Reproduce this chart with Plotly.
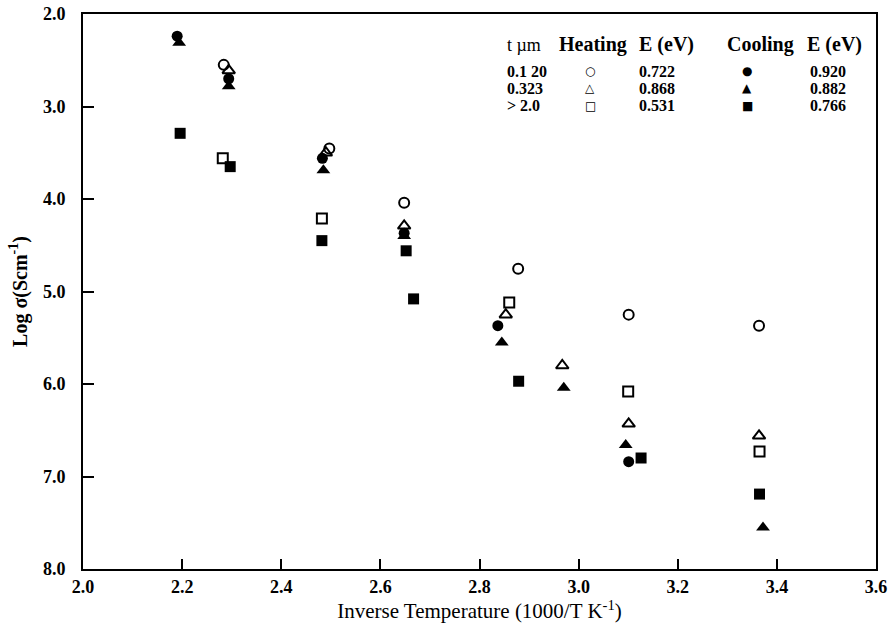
import plotly.graph_objects as go

# Heating (open symbols)
heat_circle_x = [2.284, 2.497, 2.648, 2.878, 3.101, 3.364]
heat_circle_y = [2.55, 3.455, 4.04, 4.755, 5.25, 5.37]
heat_tri_x = [2.294, 2.49, 2.648, 2.853, 2.967, 3.101, 3.364]
heat_tri_y = [2.61, 3.50, 4.29, 5.25, 5.80, 6.43, 6.56]
heat_sq_x = [2.282, 2.482, 2.86, 3.10, 3.365]
heat_sq_y = [3.56, 4.21, 5.12, 6.08, 6.73]

# Cooling (filled symbols)
cool_circle_x = [2.19, 2.294, 2.483, 2.648, 2.837, 3.101]
cool_circle_y = [2.24, 2.70, 3.56, 4.37, 5.37, 6.84]
cool_tri_x = [2.194, 2.294, 2.485, 2.648, 2.845, 2.97, 3.095, 3.372]
cool_tri_y = [2.31, 2.78, 3.69, 4.40, 5.55, 6.04, 6.66, 7.55]
cool_sq_x = [2.196, 2.297, 2.482, 2.652, 2.667, 2.879, 3.126, 3.365]
cool_sq_y = [3.29, 3.65, 4.45, 4.56, 5.08, 5.97, 6.80, 7.19]

x_ticks = [2.0, 2.2, 2.4, 2.6, 2.8, 3.0, 3.2, 3.4, 3.6]
y_ticks = [2.0, 3.0, 4.0, 5.0, 6.0, 7.0, 8.0]

# Legend table
legend_header = ["t \u00b5m", "Heating", "E (eV)", "Cooling", "E (eV)"]
legend_thickness = ["0.1 20", "0.323", "> 2.0"]
legend_heat_sym = ["\u25cb", "\u25b3", "\u25a1"]
legend_heat_E = ["0.722", "0.868", "0.531"]
legend_cool_sym = ["\u25cf", "\u25b2", "\u25a0"]
legend_cool_E = ["0.920", "0.882", "0.766"]

FONT = "Liberation Serif"
W, H = 890, 635
L, R, T, B = 83, 14, 14, 66

fig = go.Figure()


def add(x, y, symbol, size, lw=0):
    fig.add_trace(go.Scatter(
        x=x, y=y, mode="markers", showlegend=False, cliponaxis=False,
        marker=dict(symbol=symbol, size=size, color="black",
                    line=dict(color="black", width=lw)),
    ))


add(heat_circle_x, heat_circle_y, "circle-open", 10, 2)
add(heat_tri_x, heat_tri_y, "triangle-up-open", 11, 2)
add(heat_sq_x, heat_sq_y, "square-open", 10, 2)
add(cool_circle_x, cool_circle_y, "circle", 11)
add(cool_tri_x, cool_tri_y, "triangle-up", 12)
add(cool_sq_x, cool_sq_y, "square", 11)


def px(xp):
    return (xp - L) / (W - L - R)


def py(yp):
    return 1 - (yp - T) / (H - T - B)


annotations = []
header_y = 45
row_y = [71, 88.5, 106]
hdr_x = [505, 557, 637, 725, 805]
for i, txt in enumerate(legend_header):
    annotations.append(dict(x=px(hdr_x[i]), y=py(header_y), xref="paper", yref="paper",
                            text="<b>%s</b>" % txt if i else txt, showarrow=False,
                            xanchor="left", yanchor="middle",
                            font=dict(family=FONT, size=20 if i else 18, color="black")))
cell_x = [505, 590, 637, 747, 808]
anchors = ["left", "center", "left", "center", "left"]
for r in range(3):
    cells = [legend_thickness[r], legend_heat_sym[r], legend_heat_E[r],
             legend_cool_sym[r], legend_cool_E[r]]
    for c, txt in enumerate(cells):
        sym = c in (1, 3)
        annotations.append(dict(x=px(cell_x[c]), y=py(row_y[r]), xref="paper", yref="paper",
                                text=txt if sym else "<b>%s</b>" % txt, showarrow=False,
                                xanchor=anchors[c], yanchor="middle",
                                font=dict(family="DejaVu Sans" if sym else FONT,
                                          size=12 if sym else 16, color="black")))

fig.update_layout(
    width=W, height=H,
    margin=dict(l=L, r=R, t=T, b=B, pad=0),
    paper_bgcolor="white", plot_bgcolor="white",
    font=dict(family=FONT, color="black"),
    annotations=annotations,
    xaxis=dict(range=[2.0, 3.6], tickvals=x_ticks, ticktext=["%.1f" % v for v in x_ticks],
               ticks="inside", ticklen=10, tickwidth=1.5, tickcolor="black",
               showline=True, linecolor="black", linewidth=2, mirror=True,
               showgrid=False, zeroline=False, automargin=False,
               tickfont=dict(family=FONT, size=18, color="black", weight="bold"),
               title=dict(text="Inverse Temperature (1000/T K<sup>-1</sup>)",
                          font=dict(family=FONT, size=21, color="black"), standoff=6)),
    yaxis=dict(range=[8.0, 2.0], tickvals=y_ticks, ticktext=["%.1f" % v for v in y_ticks],
               ticks="inside", ticklen=11, tickwidth=1.5, tickcolor="black",
               showline=True, linecolor="black", linewidth=2, mirror=True,
               showgrid=False, zeroline=False, ticklabelstandoff=12, automargin=False,
               tickfont=dict(family=FONT, size=18, color="black", weight="bold"),
               title=dict(text="Log \u03c3(Scm<sup>-1</sup>)",
                          font=dict(family=FONT, size=20, color="black", weight="bold"),
                          standoff=10)),
)

fig.write_html("out.html", config={"displayModeBar": False},
               post_script="document.body.style.margin='0';")
